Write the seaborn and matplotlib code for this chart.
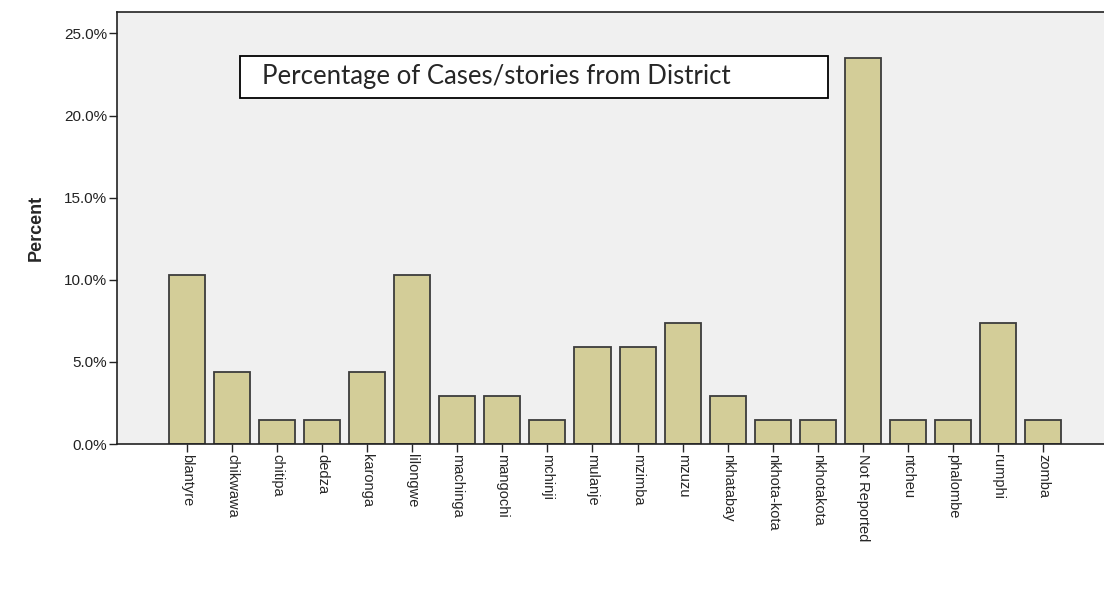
import matplotlib
matplotlib.use("Agg")
import matplotlib.pyplot as plt
import seaborn as sns
import pandas as pd
from matplotlib.ticker import FuncFormatter
from matplotlib.patches import Rectangle

# data: share of 68 cases per district (in percent)
districts = ["blantyre", "chikwawa", "chitipa", "dedza", "karonga", "lilongwe",
             "machinga", "mangochi", "mchinji", "mulanje", "mzimba", "mzuzu",
             "nkhatabay", "nkhota-kota", "nkhotakota", "Not Reported", "ntcheu",
             "phalombe", "rumphi", "zomba"]
percent = [10.29, 4.41, 1.47, 1.47, 4.41, 10.29,
           2.94, 2.94, 1.47, 5.88, 5.88, 7.35,
           2.94, 1.47, 1.47, 23.53, 1.47,
           1.47, 7.35, 1.47]

df = pd.DataFrame({"District": districts, "Percent": percent})

sns.set_style("ticks")
plt.rcParams["font.family"] = ["Liberation Sans", "DejaVu Sans"]

fig = plt.figure(figsize=(11.04, 6.05), dpi=100)
ax = fig.add_axes([0.106, 0.266, 0.894, 0.714])
ax.set_facecolor("#f0f0f0")

sns.barplot(data=df, x="District", y="Percent", color="#d3cd98",
            saturation=1, width=0.8, edgecolor="#3c3c3c", linewidth=1.3, ax=ax)

ax.set_ylim(0, 26.3)
ax.set_xlim(-1.55, 20.35)
ax.set_yticks([0, 5, 10, 15, 20, 25])
ax.yaxis.set_major_formatter(FuncFormatter(lambda v, p: f"{v:.1f}%"))
ax.tick_params(axis="y", labelsize=11, colors="#222222", length=6, width=1, pad=1)
ax.tick_params(axis="x", labelsize=10.5, length=6, width=1, pad=1)
plt.setp(ax.get_xticklabels(), rotation=-90, family=["Liberation Sans Narrow", "Liberation Sans"])

ax.set_xlabel("")
ax.set_ylabel("Percent", fontsize=13, fontweight="bold",
              family=["Liberation Sans Narrow", "Liberation Sans"], labelpad=14)

for side in ["left", "bottom", "top"]:
    ax.spines[side].set_color("#222222")
    ax.spines[side].set_linewidth(1.2)
    ax.spines[side].set_visible(True)
ax.spines["right"].set_visible(False)

# title box
ax.add_patch(Rectangle((0.1246, 0.801), 0.5954, 0.097, transform=ax.transAxes,
                       facecolor="white", edgecolor="black", linewidth=1.3, zorder=5))
ax.text(0.147, 0.850, "Percentage of Cases/stories from District",
        transform=ax.transAxes, fontsize=18.5, family=["Lato", "DejaVu Sans"],
        va="center", ha="left", zorder=6)

fig.savefig("out.png", dpi=100)
